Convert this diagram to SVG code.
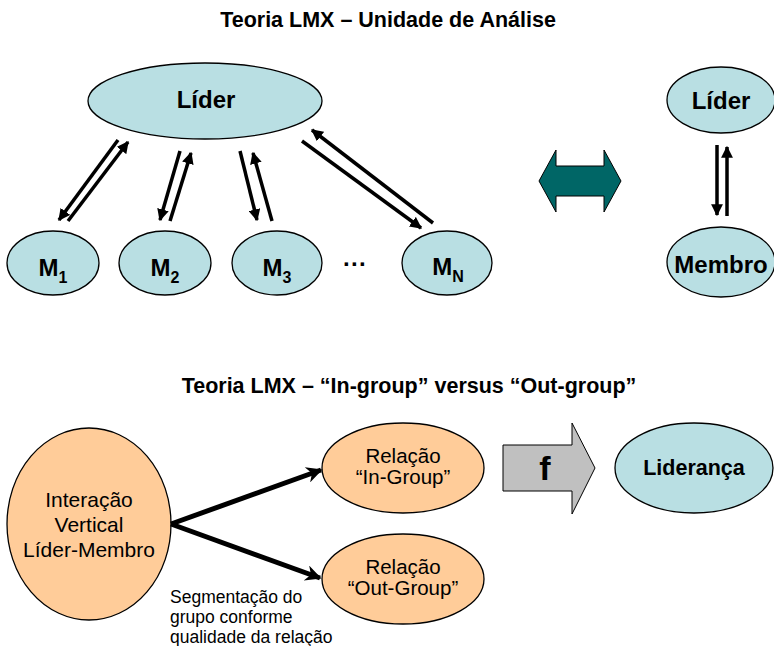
<svg xmlns="http://www.w3.org/2000/svg" width="774" height="646" viewBox="0 0 774 646">
  <style>
    text { font-family: "Liberation Sans", Arial, sans-serif; fill: #000; }
    .title { font-size: 21.5px; font-weight: bold; text-anchor: middle; }
    .bold { font-weight: bold; text-anchor: middle; font-size: 24px; }
    .plain { text-anchor: middle; font-size: 20.5px; }
    .big { font-size: 21px; }
    .note { font-size: 17.5px; }
    .blue { fill: #B9DFE3; stroke: #000; stroke-width: 1.3; }
    .orange { fill: #FFCC99; stroke: #000; stroke-width: 1.3; }
    .link { stroke: #000; stroke-width: 3.5; fill: none; marker-end: url(#head); }
    .thick { stroke: #000; stroke-width: 5; fill: none; marker-end: url(#headBig); }
  </style>
  <defs>
    <marker id="head" viewBox="0 0 10 10" refX="9" refY="5" markerWidth="3.4" markerHeight="3.4" orient="auto" markerUnits="strokeWidth">
      <path d="M0,0 L10,5 L0,10 Z" fill="#000"/>
    </marker>
    <marker id="headBig" viewBox="0 0 10 10" refX="9" refY="5" markerWidth="3.4" markerHeight="3.2" orient="auto" markerUnits="strokeWidth">
      <path d="M0,0 L10,5 L0,10 L3,5 Z" fill="#000"/>
    </marker>
  </defs>

  <!-- titles -->
  <text class="title" x="388" y="27">Teoria LMX – Unidade de Análise</text>
  <text class="title" x="409" y="393">Teoria LMX – “In-group” versus “Out-group”</text>

  <!-- leader and members -->
  <g id="lider">
    <ellipse class="blue" cx="205" cy="101" rx="117" ry="38"/>
    <text class="bold" x="206" y="108">Líder</text>
  </g>
  <g id="m1">
    <ellipse class="blue" cx="53" cy="263" rx="46" ry="32"/>
    <text class="bold" x="53" y="276">M<tspan font-size="16" dy="7">1</tspan></text>
  </g>
  <g id="m2">
    <ellipse class="blue" cx="165" cy="263" rx="46" ry="32"/>
    <text class="bold" x="165" y="276">M<tspan font-size="16" dy="7">2</tspan></text>
  </g>
  <g id="m3">
    <ellipse class="blue" cx="277" cy="263" rx="45" ry="32"/>
    <text class="bold" x="277" y="276">M<tspan font-size="16" dy="7">3</tspan></text>
  </g>
  <g id="dots">
    <text class="bold" x="355" y="272">···</text>
  </g>
  <g id="mn">
    <ellipse class="blue" cx="447" cy="263" rx="45" ry="32"/>
    <text class="bold" x="448" y="275">M<tspan font-size="16" dy="7">N</tspan></text>
  </g>

  <!-- dyad -->
  <g id="lider-dyad">
    <ellipse class="blue" cx="721" cy="100" rx="54" ry="33"/>
    <text class="bold" x="721" y="109">Líder</text>
  </g>
  <g id="membro">
    <ellipse class="blue" cx="721" cy="262" rx="54" ry="35"/>
    <text class="bold" x="721" y="273">Membro</text>
  </g>

  <!-- equivalence arrow -->
  <g id="equivalence">
    <path d="M539,181 L556,150 L556,166 L604,166 L604,150 L621,181 L604,212 L604,196 L556,196 L556,212 Z" fill="#006666" stroke="#000" stroke-width="1"/>
  </g>

  <!-- bottom: in-group / out-group -->
  <g id="interacao">
    <ellipse class="orange" cx="89" cy="524" rx="82" ry="96"/>
    <text class="plain big" x="89" y="507">Interação</text>
    <text class="plain big" x="89" y="532">Vertical</text>
    <text class="plain big" x="89" y="557">Líder-Membro</text>
  </g>
  <g id="in-group">
    <ellipse class="orange" cx="403" cy="468" rx="81" ry="45"/>
    <text class="plain" x="403" y="463">Relação</text>
    <text class="plain" x="403" y="484">“In-Group”</text>
  </g>
  <g id="out-group">
    <ellipse class="orange" cx="403" cy="579" rx="81" ry="45"/>
    <text class="plain" x="403" y="574">Relação</text>
    <text class="plain" x="403" y="595">“Out-Group”</text>
  </g>
  <g id="funcao">
    <path d="M503,445 L572,445 L572,423 L595,468 L572,514 L572,491 L503,491 Z" fill="#C0C0C0" stroke="#000" stroke-width="1"/>
    <text class="bold" x="545" y="480" style="font-size:34px">f</text>
  </g>
  <g id="lideranca">
    <ellipse class="blue" cx="694" cy="468" rx="79" ry="45"/>
    <text class="bold" x="694" y="475" style="font-size:21.5px">Liderança</text>
  </g>
  <g id="segmentacao">
    <text class="note" x="170" y="603">Segmentação do</text>
    <text class="note" x="170" y="623">grupo conforme</text>
    <text class="note" x="170" y="643">qualidade da relação</text>
  </g>

  <!-- connectors -->
  <g id="connectors">
    <line class="link" x1="118" y1="140" x2="59" y2="220"/>
    <line class="link" x1="68" y1="221" x2="128" y2="142"/>
    <line class="link" x1="180" y1="151" x2="160" y2="220"/>
    <line class="link" x1="170" y1="221" x2="191" y2="153"/>
    <line class="link" x1="240" y1="151" x2="257" y2="220"/>
    <line class="link" x1="272" y1="221" x2="253" y2="153"/>
    <line class="link" x1="302" y1="141" x2="421" y2="228"/>
    <line class="link" x1="433" y1="223" x2="312" y2="130"/>
    <line class="link" x1="717" y1="145" x2="717" y2="215"/>
    <line class="link" x1="727" y1="216" x2="727" y2="147"/>
    <line class="thick" x1="171" y1="524" x2="321" y2="470"/>
    <line class="thick" x1="171" y1="524" x2="320" y2="578"/>
  </g>
</svg>
